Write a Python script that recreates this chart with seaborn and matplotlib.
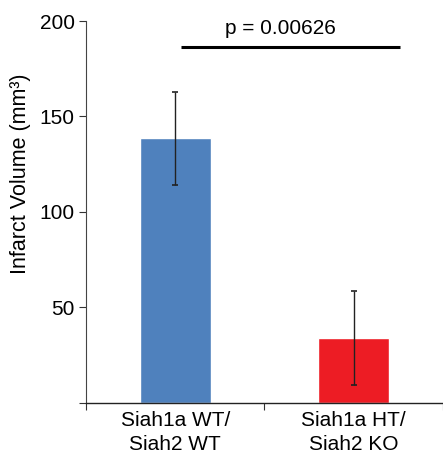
import pandas as pd
import numpy as np
import matplotlib
matplotlib.use("Agg")
import matplotlib.pyplot as plt
import seaborn as sns

# values
groups = ["Siah1a WT/\nSiah2 WT", "Siah1a HT/\nSiah2 KO"]
volume = [138.6, 34.0]
error = [24.4, 24.4]
bar_colors = ["#4F81BD", "#ED1C24"]
p_text = "p = 0.00626"
y_ticks = [0, 50, 100, 150, 200]
y_tick_labels = ["", "50", "100", "150", "200"]

sns.set_style("white")
plt.rcParams["font.family"] = ["Liberation Sans", "DejaVu Sans"]
plt.rcParams["text.color"] = "black"
plt.rcParams["axes.labelcolor"] = "black"
plt.rcParams["xtick.labelcolor"] = "black"
plt.rcParams["ytick.labelcolor"] = "black"

data = pd.DataFrame({"group": groups, "volume": volume})

fig = plt.figure(figsize=(4.43, 4.61), dpi=100)
ax = fig.add_axes([0.194, 0.126, 0.806, 0.8284])

sns.barplot(data=data, x="group", y="volume", hue="group", palette=bar_colors,
            width=0.4, errorbar=None, legend=False, saturation=1, ax=ax)
ax.errorbar(x=np.arange(len(groups)), y=volume, yerr=error, fmt="none",
            ecolor="#222222", elinewidth=1, capsize=2, capthick=1.2)

# significance bracket
ax.plot([0.03, 1.26], [186.5, 186.5], color="black", lw=2.2,
        solid_capstyle="butt")
ax.text(0.59, 191, p_text, ha="center", va="bottom", fontsize=15)

ax.set_xlim(-0.5, 1.483)
ax.set_ylim(0, 200)
ax.set_yticks(y_ticks)
ax.set_yticklabels(y_tick_labels, fontsize=15)
ax.set_xticks([0, 1])
ax.set_xticklabels(groups, fontsize=15, linespacing=1.3)
ax.set_xticks([-0.5, 0.5, 1.5], minor=True)
ax.tick_params(axis="x", which="major", length=0, pad=6)
ax.tick_params(axis="x", which="minor", length=5, width=0.8, direction="out",
               color="#333333", bottom=True)
ax.tick_params(axis="y", length=5, width=0.8, direction="out",
               color="#333333", left=True, pad=3)
ax.set_xlabel("")
ax.set_ylabel("Infarct Volume (mm³)", fontsize=15.5)
ax.yaxis.set_label_coords(-0.155, 0.60)

for side in ["top", "right"]:
    ax.spines[side].set_visible(False)
ax.spines["left"].set_color("#444444")
ax.spines["left"].set_linewidth(0.8)
ax.spines["bottom"].set_color("#222222")
ax.spines["bottom"].set_linewidth(1.0)

fig.savefig("out.png", dpi=100)
